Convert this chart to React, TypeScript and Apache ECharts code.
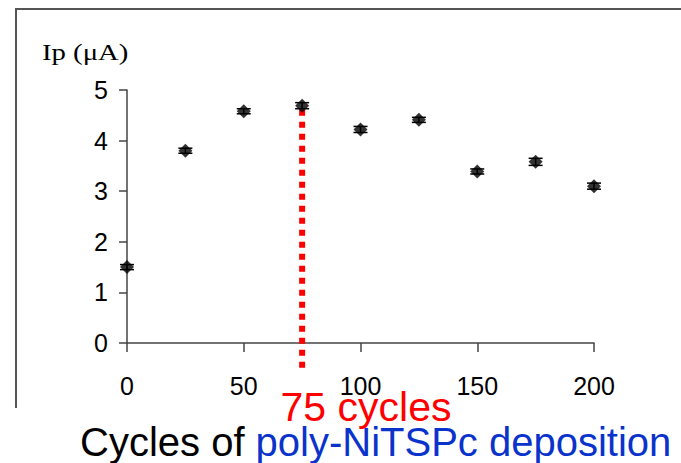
import React, { useEffect, useRef } from "react";
import * as echarts from "echarts";

const cycles = [0, 25, 50, 75, 100, 125, 150, 175, 200];
const currents = [1.5, 3.8, 4.58, 4.69, 4.22, 4.41, 3.39, 3.58, 3.1];
const errors = [0.05, 0.05, 0.05, 0.06, 0.06, 0.05, 0.05, 0.07, 0.06];
const xTicks = [0, 50, 100, 150, 200];
const yTicks = [0, 1, 2, 3, 4, 5];
const highlightCycle = 75;
const yTitle = "Ip (\u03bcA)";
const highlightLabel = "75 cycles";
const xTitleBlack = "Cycles of ";
const xTitleBlue = "poly-NiTSPc deposition";

export default function App() {
  const ref = useRef<HTMLDivElement>(null);
  useEffect(() => {
    if (!ref.current) return;
    const chart = echarts.init(ref.current, null, { renderer: "svg" });
    const pts = cycles.map((c, i) => [c, currents[i]]);
    const hlIdx = cycles.indexOf(highlightCycle);
    const axisColor = "#444";
    chart.setOption({
      animation: false,
      backgroundColor: "#fff",
      grid: { left: 127, right: 87, top: 90, bottom: 120 },
      xAxis: {
        type: "value",
        min: xTicks[0],
        max: xTicks[xTicks.length - 1],
        interval: 50,
        splitLine: { show: false },
        axisLine: { show: true, onZero: false, lineStyle: { color: axisColor, width: 1.5 } },
        axisTick: { show: true, length: 9, lineStyle: { color: axisColor, width: 1.5 } },
        axisLabel: {
          margin: 30,
          fontSize: 25,
          fontFamily: "Liberation Sans, Arial",
          color: "#000",
        },
      },
      yAxis: {
        type: "value",
        min: yTicks[0],
        max: yTicks[yTicks.length - 1],
        interval: 1,
        splitLine: { show: false },
        axisLine: { show: true, lineStyle: { color: axisColor, width: 1.5 } },
        axisTick: { show: true, length: 8, lineStyle: { color: axisColor, width: 1.5 } },
        axisLabel: {
          margin: 19,
          fontSize: 25,
          fontFamily: "Liberation Sans, Arial",
          color: "#000",
        },
      },
      series: [
        {
          type: "custom",
          z: 1,
          clip: false,
          data: [[highlightCycle, currents[hlIdx]]],
          renderItem: (params: any, api: any) => {
            const top = api.coord([api.value(0), api.value(1)]);
            const base = api.coord([api.value(0), 0]);
            return {
              type: "line",
              shape: { x1: top[0], y1: top[1] + 4, x2: base[0], y2: base[1] + 26 },
              style: { stroke: "#ff0000", lineWidth: 6, lineDash: [6, 6] },
            };
          },
        },
        {
          type: "custom",
          z: 3,
          data: cycles.map((c, i) => [c, currents[i] - errors[i], currents[i] + errors[i]]),
          renderItem: (params: any, api: any) => {
            const lo = api.coord([api.value(0), api.value(1)]);
            const hi = api.coord([api.value(0), api.value(2)]);
            const w = 7;
            return {
              type: "group",
              children: [
                { type: "line", shape: { x1: lo[0], y1: lo[1], x2: hi[0], y2: hi[1] }, style: { stroke: "#000", lineWidth: 1.5 } },
                { type: "line", shape: { x1: lo[0] - w, y1: lo[1], x2: lo[0] + w, y2: lo[1] }, style: { stroke: "#000", lineWidth: 1.5 } },
                { type: "line", shape: { x1: hi[0] - w, y1: hi[1], x2: hi[0] + w, y2: hi[1] }, style: { stroke: "#000", lineWidth: 1.5 } },
              ],
            };
          },
        },
        {
          type: "scatter",
          z: 4,
          data: pts,
          symbol: "diamond",
          symbolSize: [14, 14],
          itemStyle: { color: "#000" },
        },
      ],
      graphic: [
        {
          type: "polyline",
          shape: { points: [[16, 408], [16, 9], [690, 9]] },
          style: { stroke: "#555", lineWidth: 2, fill: null },
          silent: true,
        },
        {
          type: "text",
          x: 42,
          y: 52,
          scaleX: 1.25,
          style: {
            text: yTitle,
            fontFamily: "Liberation Serif, Times New Roman, serif",
            fontSize: 23,
            fill: "#000",
            verticalAlign: "middle",
          },
        },
        {
          type: "text",
          x: 366,
          y: 407,
          style: {
            text: highlightLabel,
            fontFamily: "Liberation Sans, Arial",
            fontSize: 41,
            fill: "#ff0000",
            align: "center",
            verticalAlign: "middle",
          },
        },
        {
          type: "text",
          x: 80,
          y: 442,
          style: {
            text: "{a|" + xTitleBlack + "}{b|" + xTitleBlue + "}",
            verticalAlign: "middle",
            rich: {
              a: { fontFamily: "Liberation Sans, Arial", fontSize: 40, fill: "#000" },
              b: { fontFamily: "Liberation Sans, Arial", fontSize: 40, fill: "#0a33cc" },
            },
          },
        },
      ],
    });
    return () => chart.dispose();
  }, []);
  return (
    <div
      ref={ref}
      style={{ position: "fixed", left: 0, top: 0, width: 681, height: 463 }}
    />
  );
}
